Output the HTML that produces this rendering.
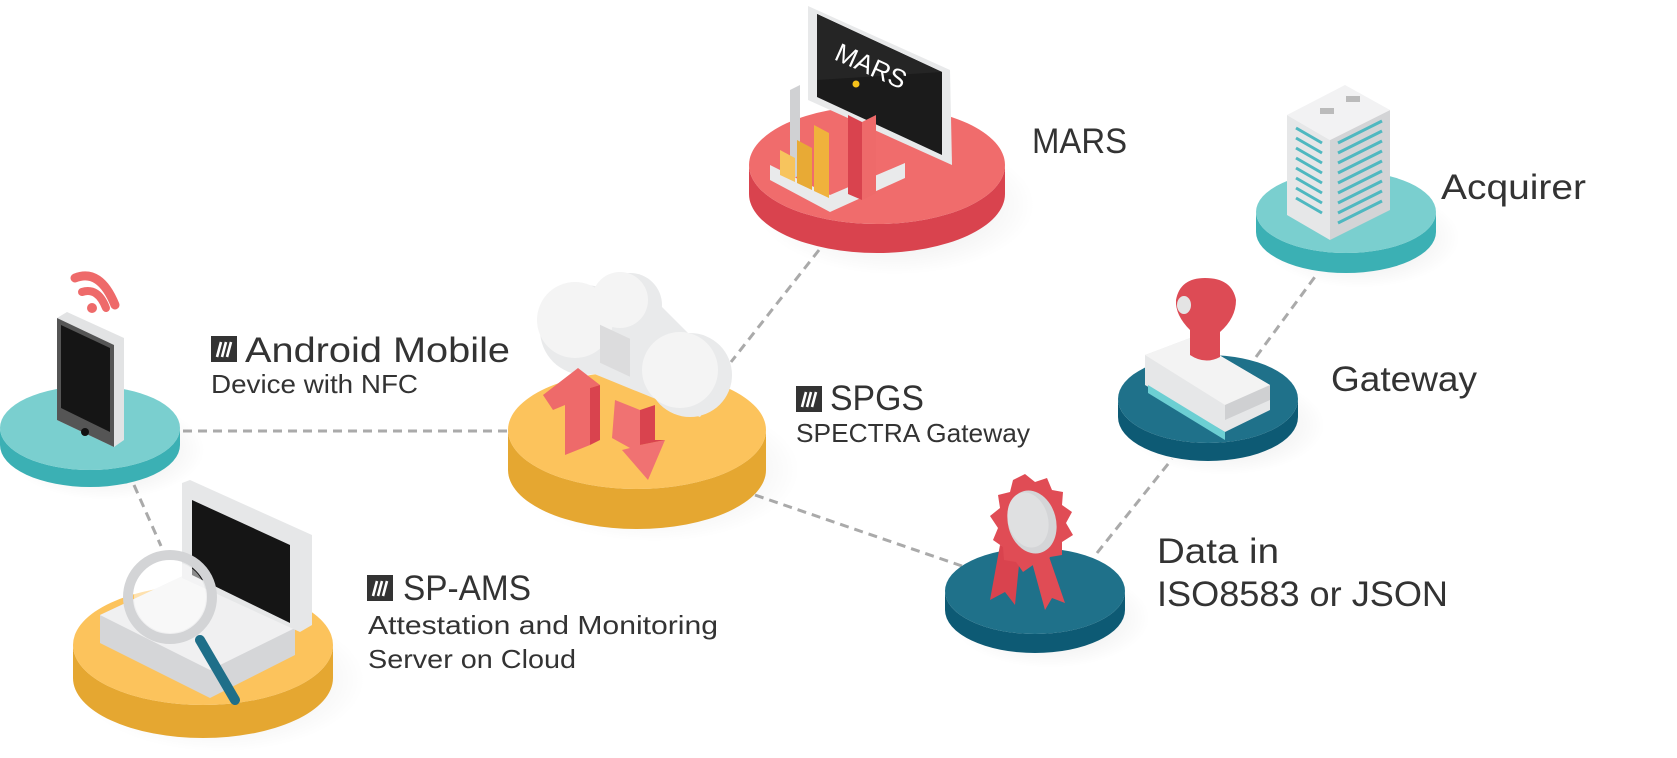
<!DOCTYPE html>
<html><head><meta charset="utf-8"><style>
html,body{margin:0;padding:0;background:#fff;}
svg{display:block}
text{font-family:"Liberation Sans",sans-serif;fill:#333;}
</style></head><body>
<svg width="1677" height="758" viewBox="0 0 1677 758" xmlns="http://www.w3.org/2000/svg">
<defs>
<radialGradient id="sh" cx="50%" cy="50%" r="50%"><stop offset="0" stop-color="#000" stop-opacity="0.12"/><stop offset="1" stop-color="#000" stop-opacity="0"/></radialGradient>
<g id="logo"><rect x="0" y="0" width="26" height="26" fill="#333"/><path d="M6 21 L10 6 M11 21 L15 6 M16 21 L20 6" stroke="#fff" stroke-width="2.6"/></g>
</defs>

<g stroke="#aaa" stroke-width="3" stroke-dasharray="9 6" fill="none">
<line x1="183" y1="431" x2="508" y2="431"/>
<line x1="134" y1="485" x2="161" y2="546"/>
<line x1="819" y1="250" x2="731" y2="362"/>
<line x1="755" y1="495" x2="962" y2="566"/>
<line x1="1097" y1="553" x2="1172" y2="459"/>
<line x1="1256" y1="357" x2="1317" y2="274"/>
</g>

<ellipse cx="895" cy="205" rx="140" ry="70" fill="url(#sh)"/>
<path d="M749 165 A128 59 0 0 0 1005 165 L1005 194 A128 59 0 0 1 749 194 Z" fill="#d9434e"/>
<ellipse cx="877" cy="165" rx="128" ry="59" fill="#f06c6c"/>
<ellipse cx="1360" cy="238" rx="100" ry="50" fill="url(#sh)"/>
<path d="M1256 212 A90 41 0 0 0 1436 212 L1436 232 A90 41 0 0 1 1256 232 Z" fill="#3bb0b4"/>
<ellipse cx="1346" cy="212" rx="90" ry="41" fill="#7acfcf"/>
<ellipse cx="1225" cy="425" rx="100" ry="50" fill="url(#sh)"/>
<path d="M1118 399 A90 44 0 0 0 1298 399 L1298 417 A90 44 0 0 1 1118 417 Z" fill="#0d5a74"/>
<ellipse cx="1208" cy="399" rx="90" ry="44" fill="#1f718a"/>
<ellipse cx="1050" cy="618" rx="100" ry="50" fill="url(#sh)"/>
<path d="M945 591 A90 43 0 0 0 1125 591 L1125 610 A90 43 0 0 1 945 610 Z" fill="#0d5a74"/>
<ellipse cx="1035" cy="591" rx="90" ry="43" fill="#1f718a"/>
<ellipse cx="655" cy="470" rx="145" ry="72" fill="url(#sh)"/>
<path d="M508 430 A129 59 0 0 0 766 430 L766 470 A129 59 0 0 1 508 470 Z" fill="#e5a731"/>
<ellipse cx="637" cy="430" rx="129" ry="59" fill="#fcc35c"/>
<ellipse cx="105" cy="450" rx="100" ry="50" fill="url(#sh)"/>
<path d="M0 428 A90 42 0 0 0 180 428 L180 445 A90 42 0 0 1 0 445 Z" fill="#3bb0b4"/>
<ellipse cx="90" cy="428" rx="90" ry="42" fill="#7acfcf"/>
<ellipse cx="220" cy="680" rx="145" ry="72" fill="url(#sh)"/>
<path d="M73 645 A130 60 0 0 0 333 645 L333 678 A130 60 0 0 1 73 678 Z" fill="#e5a731"/>
<ellipse cx="203" cy="645" rx="130" ry="60" fill="#fcc35c"/>

<polygon points="790,90 800,85 800,175 790,180" fill="#d0d1d3"/>
<polygon points="808,6 950,70 952,165 808,100" fill="#e8e9ea"/>
<polygon points="817,14 942,72 942,155 817,97" fill="#1b1b1b"/>
<polygon points="817,14 942,72 817,80" fill="#252525"/>
<text x="835" y="70" font-size="26" style="fill:#fff" transform="rotate(24 860 60)">MARS</text>
<circle cx="856" cy="84" r="3.5" fill="#f6c21a"/>
<polygon points="770,165 830,195 905,163 905,178 830,212 770,180" fill="#e9eaeb"/>
<polygon points="780,150 795,158 795,182 780,175" fill="#f7c45d"/>
<polygon points="797,140 812,148 812,190 797,183" fill="#e8aa35"/>
<polygon points="814,125 829,133 829,198 814,191" fill="#f0b23c"/>
<polygon points="848,115 862,122 862,200 848,194" fill="#d9434e"/>
<polygon points="862,122 876,115 876,193 862,200" fill="#ee6a6a"/>

<polygon points="1287,115 1330,140 1330,240 1287,215" fill="#e6e7e8"/>
<polygon points="1330,140 1390,110 1390,210 1330,240" fill="#d3d4d6"/>
<polygon points="1287,115 1345,85 1390,110 1330,140" fill="#f2f2f3"/>
<g stroke="#4fb8c0" stroke-width="3">
<line x1="1296" y1="128" x2="1322" y2="143"/><line x1="1296" y1="138" x2="1322" y2="153"/><line x1="1296" y1="148" x2="1322" y2="163"/><line x1="1296" y1="158" x2="1322" y2="173"/><line x1="1296" y1="168" x2="1322" y2="183"/><line x1="1296" y1="178" x2="1322" y2="193"/><line x1="1296" y1="188" x2="1322" y2="203"/><line x1="1296" y1="198" x2="1322" y2="213"/>
<line x1="1338" y1="143" x2="1382" y2="121"/><line x1="1338" y1="153" x2="1382" y2="131"/><line x1="1338" y1="163" x2="1382" y2="141"/><line x1="1338" y1="173" x2="1382" y2="151"/><line x1="1338" y1="183" x2="1382" y2="161"/><line x1="1338" y1="193" x2="1382" y2="171"/><line x1="1338" y1="203" x2="1382" y2="181"/><line x1="1338" y1="213" x2="1382" y2="191"/><line x1="1338" y1="223" x2="1382" y2="201"/>
</g>
<rect x="1320" y="108" width="14" height="6" fill="#bbb"/><rect x="1346" y="96" width="14" height="6" fill="#bbb"/>

<polygon points="1145,355 1190,338 1270,385 1270,410 1225,432 1145,385" fill="#e6e7e8"/>
<polygon points="1145,355 1190,338 1270,385 1225,405" fill="#f3f3f3"/>
<polygon points="1225,405 1270,385 1270,400 1225,420" fill="#cfd0d2"/>
<polygon points="1148,385 1225,432 1225,440 1148,393" fill="#6ccfd3"/>
<path d="M1190 355 L1190 330 Q1175 315 1176 300 Q1180 278 1205 278 Q1232 278 1236 300 Q1236 318 1220 332 L1220 357 Q1205 365 1190 355 Z" fill="#dd4b55"/>
<ellipse cx="1184" cy="305" rx="7" ry="9" fill="#e4e4e4"/>

<polygon points="1000,545 990,600 1005,592 1015,605 1020,555" fill="#d9434e"/>
<polygon points="1030,555 1045,610 1052,598 1065,603 1045,545" fill="#e04c55"/>
<polygon points="1025,474 1035,482 1047,478 1052,490 1063,492 1062,505 1072,512 1066,523 1073,535 1062,542 1062,555 1050,557 1045,568 1033,565 1023,572 1016,562 1004,560 1003,547 993,540 998,528 990,516 1000,508 998,495 1010,492 1013,480" fill="#e04c55"/>
<ellipse cx="1032" cy="522" rx="24" ry="32" fill="#d4d5d7" transform="rotate(-15 1032 522)"/>
<ellipse cx="1028" cy="520" rx="20" ry="28" fill="#dfe0e1" transform="rotate(-15 1028 520)"/>

<g fill="#e9eaeb">
<circle cx="585" cy="330" r="45"/><circle cx="630" cy="305" r="32"/><circle cx="690" cy="375" r="42"/>
<polygon points="560,300 640,285 730,375 700,417 560,360"/>
</g>
<g fill="#f4f4f4">
<circle cx="575" cy="320" r="38"/><circle cx="620" cy="300" r="28"/><circle cx="680" cy="370" r="38"/>
</g>
<rect x="600" y="320" width="30" height="38" fill="#dcdcdd" transform="skewY(25) translate(0,-275)"/>
<polygon points="543,395 578,368 600,385 590,388 590,445 565,455 565,405 553,410" fill="#ee6a6a"/>
<polygon points="590,388 600,385 600,440 590,445" fill="#d9434e"/>
<polygon points="615,400 640,410 640,445 665,440 648,480 622,450 630,448 612,438" fill="#f07272"/>
<polygon points="640,410 655,405 655,440 665,440 640,445" fill="#d9434e"/>

<path d="M75 278 Q100 268 115 305" stroke="#ee6a6a" stroke-width="9" fill="none" stroke-linecap="round"/>
<path d="M82 292 Q98 287 106 308" stroke="#ee6a6a" stroke-width="8" fill="none" stroke-linecap="round"/>
<circle cx="92" cy="308" r="5" fill="#ee6a6a"/>
<polygon points="57,318 67,312 124,338 124,440 114,447 57,420" fill="#e2e3e4"/>
<polygon points="57,318 114,345 114,447 57,420" fill="#555"/>
<polygon points="61,325 110,348 110,432 61,408" fill="#151515"/>
<circle cx="85" cy="432" r="4" fill="#111"/>

<polygon points="100,615 185,575 295,628 295,655 210,698 100,643" fill="#d5d6d8"/>
<polygon points="100,615 185,575 295,628 210,670" fill="#f0f0f1"/>
<polygon points="182,483 190,480 312,535 312,625 300,632 182,578" fill="#e6e7e8"/>
<polygon points="192,500 290,545 290,623 192,575" fill="#151515"/>
<circle cx="170" cy="597" r="42" fill="none" stroke="#d3d4d6" stroke-width="10"/>
<circle cx="170" cy="597" r="36" fill="#fff" fill-opacity="0.5"/>
<line x1="200" y1="640" x2="235" y2="700" stroke="#1f6f89" stroke-width="10" stroke-linecap="round"/>

<text x="1032" y="153" font-size="35" textLength="95" lengthAdjust="spacingAndGlyphs">MARS</text>
<text x="1441" y="199" font-size="35" textLength="145" lengthAdjust="spacingAndGlyphs">Acquirer</text>
<text x="1331" y="391" font-size="35" textLength="146" lengthAdjust="spacingAndGlyphs">Gateway</text>
<text x="1157" y="563" font-size="35" textLength="122" lengthAdjust="spacingAndGlyphs">Data in</text>
<text x="1157" y="606" font-size="35" textLength="291" lengthAdjust="spacingAndGlyphs">ISO8583 or JSON</text>

<use href="#logo" x="211" y="336"/>
<text x="245" y="362" font-size="35" textLength="265" lengthAdjust="spacingAndGlyphs">Android Mobile</text>
<text x="211" y="393" font-size="26" textLength="207" lengthAdjust="spacingAndGlyphs">Device with NFC</text>

<use href="#logo" x="796" y="386"/>
<text x="830" y="410" font-size="35" textLength="94" lengthAdjust="spacingAndGlyphs">SPGS</text>
<text x="796" y="442" font-size="26" textLength="234" lengthAdjust="spacingAndGlyphs">SPECTRA Gateway</text>

<use href="#logo" x="367" y="575"/>
<text x="403" y="600" font-size="35" textLength="128" lengthAdjust="spacingAndGlyphs">SP-AMS</text>
<text x="368" y="634" font-size="26" textLength="350" lengthAdjust="spacingAndGlyphs">Attestation and Monitoring</text>
<text x="368" y="668" font-size="26" textLength="208" lengthAdjust="spacingAndGlyphs">Server on Cloud</text>
</svg>
</body></html>
